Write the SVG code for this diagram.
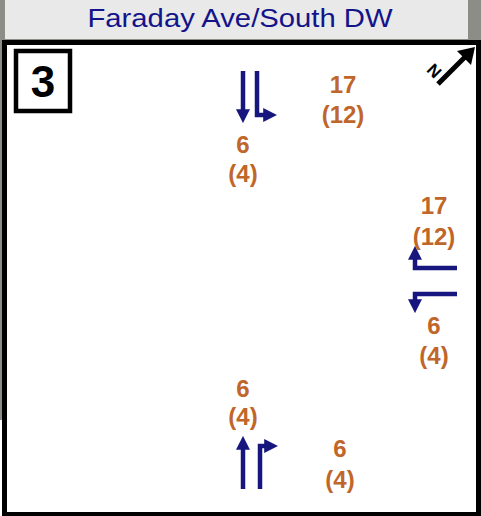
<svg xmlns="http://www.w3.org/2000/svg" width="481" height="516" viewBox="0 0 481 516">
<defs>
<style>
.vol{font-family:"Liberation Sans",Arial,sans-serif;font-weight:bold;font-size:24px;fill:#c0662a;text-anchor:middle}
.mv{fill:none;stroke:#16167e;stroke-width:4.5}
</style>
<marker id="ah" viewBox="0 0 10 10" refX="2" refY="5" markerWidth="3.1" markerHeight="3.1" orient="auto" markerUnits="strokeWidth">
<path d="M0,0 L10,5 L0,10 z" fill="#16167e"/>
</marker>
</defs>
<rect x="0" y="0" width="481" height="516" fill="#8d8d88"/>
<rect x="0" y="420" width="6" height="96" fill="#ffffff"/>
<rect x="5" y="0" width="463" height="39" fill="#e9e9e9"/>
<text x="240" y="27" font-family="'Liberation Sans',Arial,sans-serif" font-size="25" fill="#14148a" text-anchor="middle" textLength="305" lengthAdjust="spacingAndGlyphs">Faraday Ave/South DW</text>
<g id="frame">
<rect x="4.5" y="42.5" width="474" height="472" fill="#ffffff" stroke="#000000" stroke-width="5"/>
</g>
<g id="label3">
<rect x="16" y="51" width="54" height="60" fill="#ffffff" stroke="#000000" stroke-width="4.5"/>
<text x="43" y="97" font-family="'Liberation Sans',Arial,sans-serif" font-weight="bold" font-size="44" fill="#000000" text-anchor="middle">3</text>
</g>
<g id="north">
<line x1="438" y1="84" x2="465" y2="57" stroke="#000" stroke-width="5"/>
<path d="M475,47 L471,65 L457,51 z" fill="#000"/>
<text x="0" y="0" transform="translate(430,75) rotate(45)" font-family="'Liberation Sans',Arial,sans-serif" font-weight="bold" font-size="17" fill="#000" text-anchor="middle">N</text>
</g>
<g id="connectors">
<path class="mv" d="M243,71 V112" marker-end="url(#ah)"/>
<path class="mv" d="M257,71 V115 H266" marker-end="url(#ah)"/>
<path class="mv" d="M457,268 H415 V257" marker-end="url(#ah)"/>
<path class="mv" d="M457,294 H415 V302" marker-end="url(#ah)"/>
<path class="mv" d="M243,489 V447" marker-end="url(#ah)"/>
<path class="mv" d="M260,489 V446 H267" marker-end="url(#ah)"/>
</g>
<g id="sb-through">
<text class="vol" x="243" y="153">6</text>
<text class="vol" x="243" y="182">(4)</text>
</g>
<g id="sb-right">
<text class="vol" x="343" y="93">17</text>
<text class="vol" x="343" y="123">(12)</text>
</g>
<g id="wb-right">
<text class="vol" x="434" y="214">17</text>
<text class="vol" x="434" y="245">(12)</text>
</g>
<g id="wb-left">
<text class="vol" x="434" y="334">6</text>
<text class="vol" x="434" y="364">(4)</text>
</g>
<g id="nb-through">
<text class="vol" x="243" y="397">6</text>
<text class="vol" x="243" y="425">(4)</text>
</g>
<g id="nb-right">
<text class="vol" x="340" y="457">6</text>
<text class="vol" x="340" y="488">(4)</text>
</g>
</svg>
